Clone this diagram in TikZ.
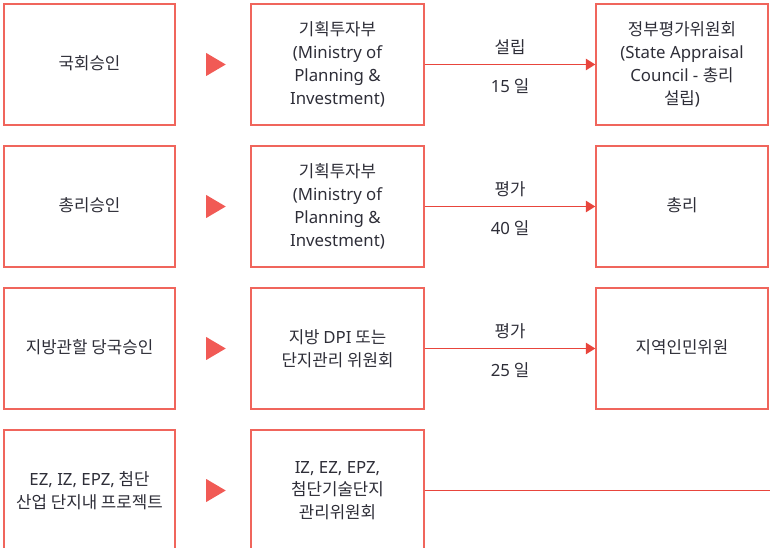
\documentclass[tikz,border=0pt]{standalone}
\usepackage{fontspec}
\setmainfont{Noto Sans CJK KR}
\newfontfamily\latf{Noto Sans}
\newcommand{\lat}[1]{{\latf #1}}
\newcommand{\upone}[1]{\raisebox{2.4pt}{#1}}
\usetikzlibrary{arrows.meta,calc}
\definecolor{boxred}{HTML}{F0655C}
\definecolor{linered}{HTML}{E8453C}
\definecolor{trired}{HTML}{F15A55}
\definecolor{txt}{HTML}{2E2E38}
\begin{document}
\begin{tikzpicture}[x=0.75pt,y=-0.75pt,
  stagebox/.style={draw=boxred,line width=1.1pt,rectangle,inner sep=0pt,
    minimum height=121*0.75pt,align=center,text=txt,
    font=\fontsize{12.6pt}{17.1pt}\selectfont},
  col1/.style={stagebox,minimum width=171*0.75pt},
  col2/.style={stagebox,minimum width=173*0.75pt},
  col3/.style={stagebox,minimum width=172*0.75pt},
  flow/.style={draw=linered,line width=1pt,-{Triangle[length=7pt,width=8.5pt]}},
  flowlbl/.style={text=txt,font=\fontsize{12.6pt}{17.1pt}\selectfont},
  tri/.style={fill=trired},
]
\useasboundingbox (0,0) rectangle (770,548);
\clip (0,0) rectangle (770,548);
% row 1
\node[col1] (a1) at (89.5,64.5) {\upone{국회승인}};
\node[col2] (b1) at (337.5,64.5) {기획투자부\\\lat{(Ministry of}\\\lat{Planning \&}\\\lat{Investment)}};
\node[col3] (c1) at (682,64.5) {정부평가위원회\\\lat{(State Appraisal}\\\lat{Council - }총리\\설립\lat{)}};
% row 2
\node[col1] (a2) at (89.5,206.5) {\upone{총리승인}};
\node[col2] (b2) at (337.5,206.5) {기획투자부\\\lat{(Ministry of}\\\lat{Planning \&}\\\lat{Investment)}};
\node[col3] (c2) at (682,206.5) {\upone{총리}};
% row 3
\node[col1] (a3) at (89.5,348.5) {\upone{지방관할 당국승인}};
\node[col2] (b3) at (337.5,348.5) {지방 \lat{DPI} 또는\\단지관리 위원회};
\node[col3] (c3) at (682,348.5) {\upone{지역인민위원}};
% row 4
\node[col1] (a4) at (89.5,490.5) {\lat{EZ, IZ, EPZ,} 첨단\\산업 단지내 프로젝트};
\node[col2] (b4) at (337.5,490.5) {\lat{IZ, EZ, EPZ,}\\첨단기술단지\\관리위원회};
\coordinate (e4) at (770,490.5);
% triangles
\foreach \r in {1,2,3,4}{
  \fill[tri] ($(a\r.east)+(30.5,-11.5)$) -- ($(a\r.east)+(50,0)$) -- ($(a\r.east)+(30.5,11.5)$) -- cycle;
}
% arrows
\draw[flow] (b1.east) -- node[flowlbl,above=3.5pt] {설립} node[flowlbl,below=7pt] {\lat{15} 일} (c1.west);
\draw[flow] (b2.east) -- node[flowlbl,above=3.5pt] {평가} node[flowlbl,below=7pt] {\lat{40} 일} (c2.west);
\draw[flow] (b3.east) -- node[flowlbl,above=3.5pt] {평가} node[flowlbl,below=7pt] {\lat{25} 일} (c3.west);
\draw[draw=linered,line width=1pt] (b4.east) -- (e4);
\end{tikzpicture}
\end{document}
